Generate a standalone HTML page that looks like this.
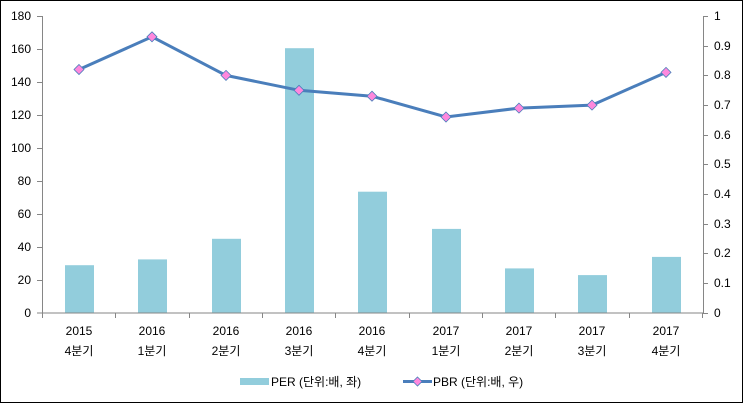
<!DOCTYPE html>
<html><head><meta charset="utf-8"><style>
body{margin:0;background:#fff}
svg text{font-family:"Liberation Sans","Noto Sans CJK KR",sans-serif;font-size:12px;fill:#000}
</style></head><body>
<svg width="743" height="403" xmlns="http://www.w3.org/2000/svg">
<rect x="0.5" y="0.5" width="742" height="402" fill="#fff" stroke="#000"/>
<g fill="#92CDDC">
<rect x="65" y="265.2" width="29" height="47.8"/>
<rect x="138" y="259.4" width="29" height="53.6"/>
<rect x="212" y="238.8" width="29" height="74.2"/>
<rect x="285" y="48.2" width="29" height="264.8"/>
<rect x="358" y="191.7" width="29" height="121.3"/>
<rect x="432" y="228.9" width="29" height="84.1"/>
<rect x="505" y="268.4" width="29" height="44.6"/>
<rect x="578" y="275.1" width="29" height="37.9"/>
<rect x="652" y="256.9" width="29" height="56.1"/>
</g>
<g stroke="#868686" stroke-width="1" fill="none">
<path d="M42.5 16V313M37 313H703M703.5 16V313"/>
<path d="M37 16.5H42M37 49.5H42M37 82.5H42M37 115.5H42M37 148.5H42M37 181.5H42M37 214.5H42M37 247.5H42M37 280.5H42"/>
<path d="M703 16.5H708M703 46.5H708M703 75.5H708M703 105.5H708M703 135.5H708M703 164.5H708M703 194.5H708M703 224.5H708M703 253.5H708M703 283.5H708M703 313.5H708"/>
<path d="M42.5 313V318M115.5 313V318M189.5 313V318M262.5 313V318M335.5 313V318M409.5 313V318M482.5 313V318M555.5 313V318M629.5 313V318M702.5 313V318"/>
</g>
<g text-anchor="end">
<text x="31" y="20">180</text><text x="31" y="53">160</text><text x="31" y="86">140</text><text x="31" y="119">120</text><text x="31" y="152">100</text><text x="31" y="185">80</text><text x="31" y="218">60</text><text x="31" y="251">40</text><text x="31" y="284">20</text><text x="31" y="317">0</text>
</g>
<g>
<text x="714" y="20">1</text><text x="714" y="50">0.9</text><text x="714" y="79">0.8</text><text x="714" y="109">0.7</text><text x="714" y="139">0.6</text><text x="714" y="168">0.5</text><text x="714" y="198">0.4</text><text x="714" y="228">0.3</text><text x="714" y="257">0.2</text><text x="714" y="287">0.1</text><text x="714" y="317">0</text>
</g>
<g text-anchor="middle">
<text x="79" y="335">2015</text><text x="79" y="355">4분기</text>
<text x="152" y="335">2016</text><text x="152" y="355">1분기</text>
<text x="226" y="335">2016</text><text x="226" y="355">2분기</text>
<text x="299" y="335">2016</text><text x="299" y="355">3분기</text>
<text x="372" y="335">2016</text><text x="372" y="355">4분기</text>
<text x="446" y="335">2017</text><text x="446" y="355">1분기</text>
<text x="519" y="335">2017</text><text x="519" y="355">2분기</text>
<text x="592" y="335">2017</text><text x="592" y="355">3분기</text>
<text x="666" y="335">2017</text><text x="666" y="355">4분기</text>
</g>
<polyline fill="none" stroke="#4A7EBB" stroke-width="3" points="79,69.5 152,36.8 226,75.4 299,90.3 372,96.2 446,117 519,108.1 592,105.1 666,72.4"/>
<g fill="#FF88DD" stroke="#4A7EBB" stroke-width="0.8">
<path d="M79 64.5l5 5-5 5-5-5z"/><path d="M152 31.8l5 5-5 5-5-5z"/><path d="M226 70.4l5 5-5 5-5-5z"/><path d="M299 85.3l5 5-5 5-5-5z"/><path d="M372 91.2l5 5-5 5-5-5z"/><path d="M446 112l5 5-5 5-5-5z"/><path d="M519 103.1l5 5-5 5-5-5z"/><path d="M592 100.1l5 5-5 5-5-5z"/><path d="M666 67.4l5 5-5 5-5-5z"/>
</g>
<rect x="240" y="378" width="29" height="7" fill="#92CDDC"/>
<text x="271" y="386">PER (단위:배, 좌)</text>
<line x1="403" y1="381.5" x2="432" y2="381.5" stroke="#4A7EBB" stroke-width="3"/>
<path d="M417.5 377l4.5 4.5-4.5 4.5-4.5-4.5z" fill="#FF88DD" stroke="#4A7EBB" stroke-width="0.8"/>
<text x="433" y="386">PBR (단위:배, 우)</text>
</svg>
</body></html>
